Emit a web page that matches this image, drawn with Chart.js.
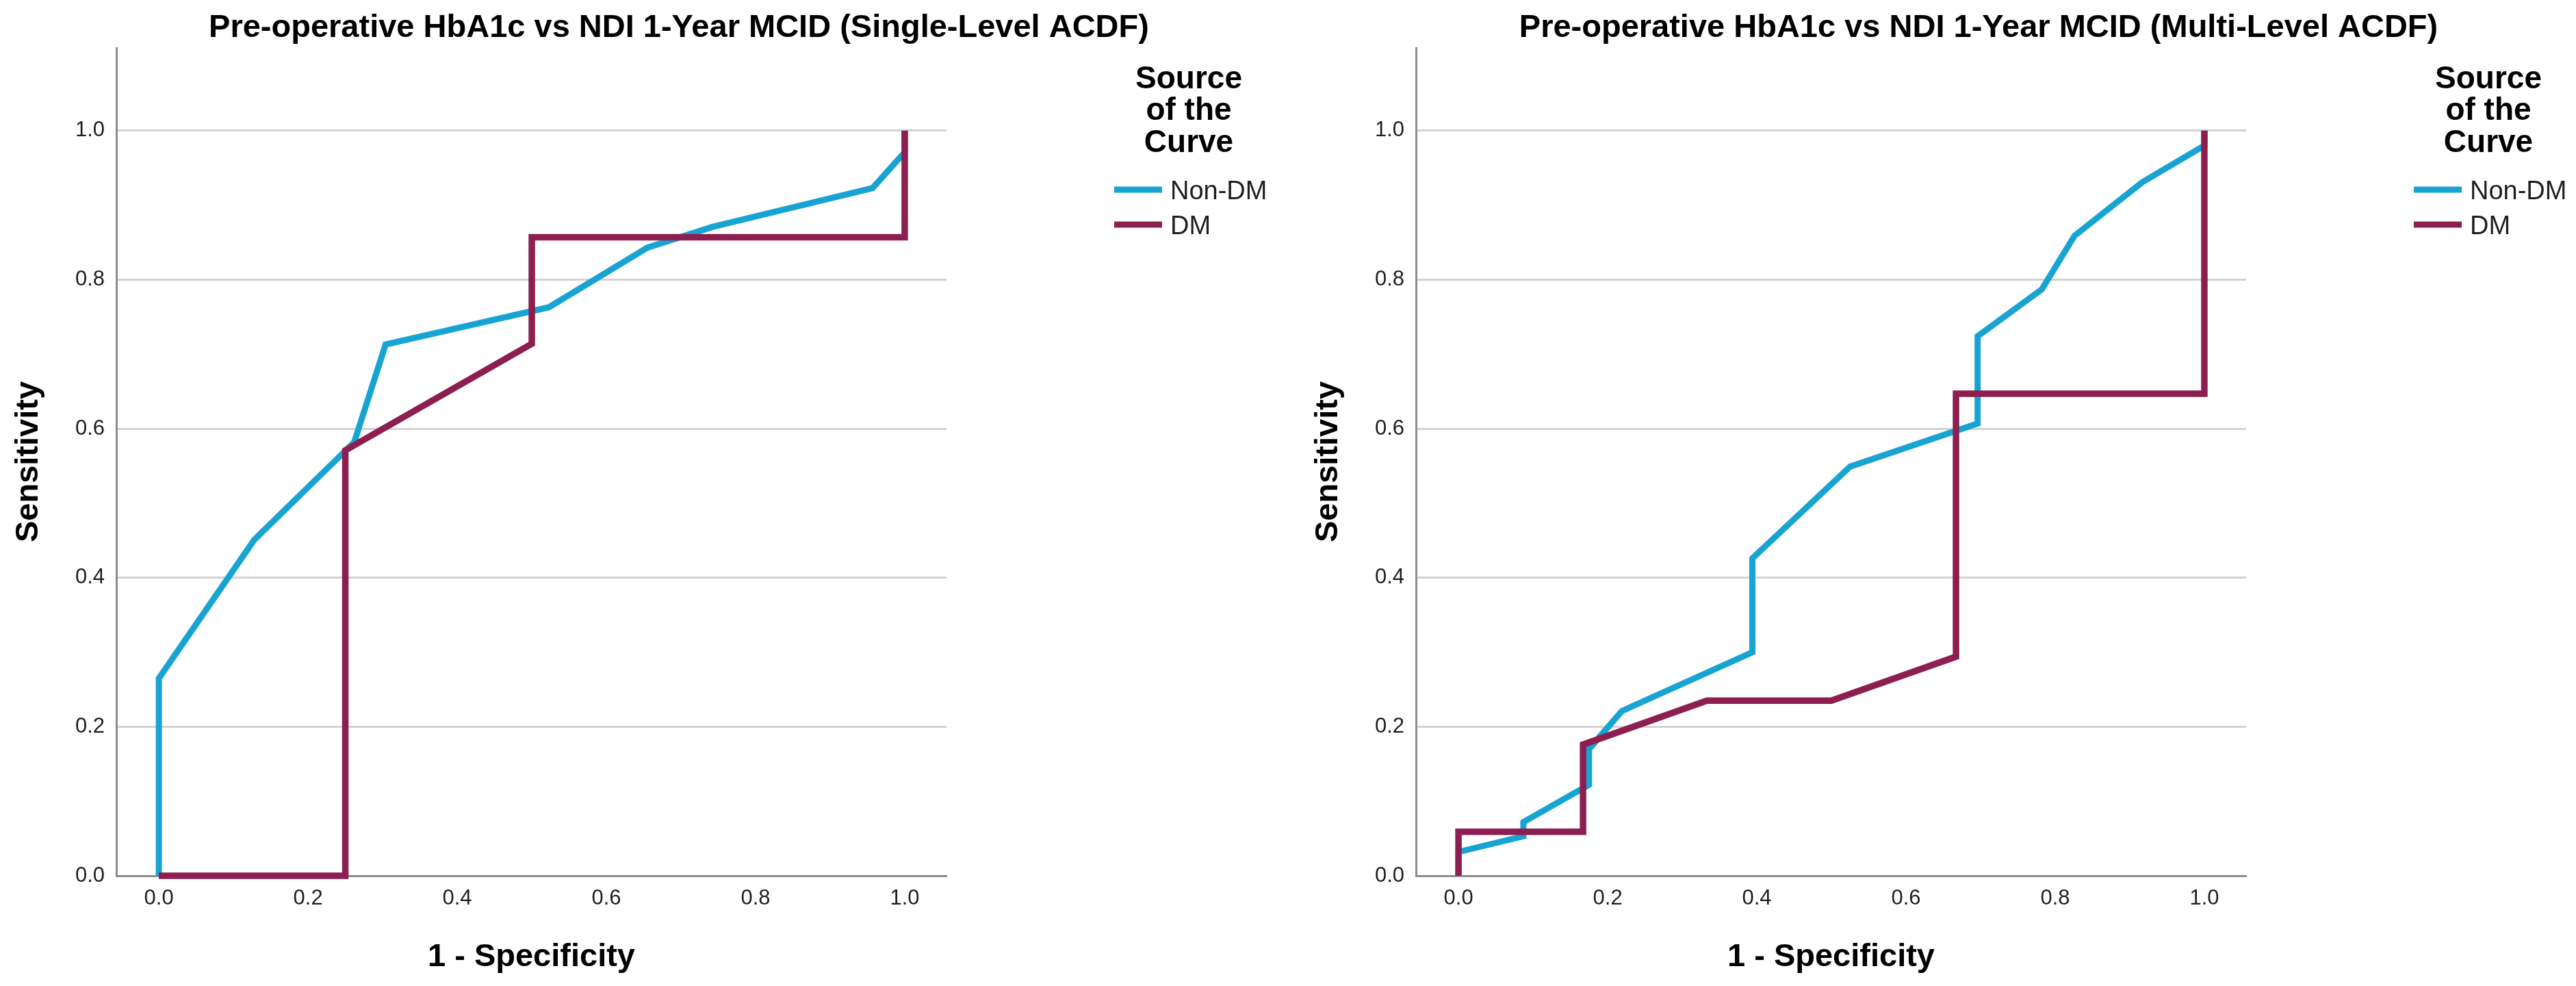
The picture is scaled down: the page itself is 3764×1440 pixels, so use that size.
<!DOCTYPE html>
<html>
<head>
<meta charset="utf-8">
<title>Pre-operative HbA1c vs NDI 1-Year MCID ROC curves</title>
<script src="https://cdn.jsdelivr.net/npm/chart.js@4.4.1/dist/chart.umd.min.js"></script>
<style>
  html, body { margin: 0; padding: 0; background: #fff; }
  body { width: 3764px; height: 1440px; position: relative; overflow: hidden; }
  .panel { position: absolute; top: 0; }
</style>
</head>
<body>
<div class="panel" style="left:0"><canvas id="single-level" width="1865" height="1440"></canvas></div>
<div class="panel" style="left:1899px"><canvas id="multi-level" width="1865" height="1440"></canvas></div>
<script>
// shared bits
const seriesLabels = ['Non-DM', 'DM'];
const seriesColors = ['#18a4d3', '#8c1f4f'];
const xTicks = [0, 0.2, 0.4, 0.6, 0.8, 1.0];
const yTicks = [0, 0.2, 0.4, 0.6, 0.8, 1.0];
const legendTitle = ['Source', 'of the', 'Curve'];
const xTitle = '1 - Specificity';
const yTitle = 'Sensitivity';

// Single-Level ACDF (1 - specificity, sensitivity)
const singleTitle = 'Pre-operative HbA1c vs NDI 1-Year MCID (Single-Level ACDF)';
const singleNonDmX = [0, 0, 0.128, 0.262, 0.304, 0.523, 0.655, 0.743, 0.957, 1.0, 1.0];
const singleNonDmY = [0, 0.265, 0.451, 0.582, 0.713, 0.763, 0.843, 0.871, 0.923, 0.971, 1.0];
const singleDmX = [0, 0.25, 0.25, 0.5, 0.5, 1.0, 1.0];
const singleDmY = [0, 0, 0.571, 0.714, 0.857, 0.857, 1.0];

// Multi-Level ACDF
const multiTitle = 'Pre-operative HbA1c vs NDI 1-Year MCID (Multi-Level ACDF)';
const multiNonDmX = [0, 0, 0.087, 0.087, 0.175, 0.175, 0.219, 0.394, 0.394, 0.525, 0.696, 0.696, 0.782, 0.826, 0.917, 1.0, 1.0];
const multiNonDmY = [0, 0.032, 0.053, 0.072, 0.122, 0.17, 0.221, 0.30, 0.426, 0.549, 0.607, 0.724, 0.787, 0.859, 0.931, 0.98, 1.0];
const multiDmX = [0, 0, 0.167, 0.167, 0.333, 0.5, 0.667, 0.667, 1.0, 1.0];
const multiDmY = [0, 0.059, 0.059, 0.176, 0.235, 0.235, 0.294, 0.647, 0.647, 1.0];

const FONT = '"Liberation Sans", Arial, Helvetica, sans-serif';
Chart.defaults.font.family = FONT;

const toPoints = (xs, ys) => xs.map((x, i) => ({ x: x, y: ys[i] }));

// chart title and SPSS-style legend on the right
const panelDecor = {
  id: 'panelDecor',
  afterDraw(chart, args, opts) {
    const ctx = chart.ctx;
    ctx.save();
    ctx.fillStyle = '#000';
    ctx.textAlign = 'center';
    ctx.textBaseline = 'middle';
    ctx.font = 'bold 47px ' + FONT;
    ctx.fillText(opts.title, 992, 41);

    ctx.font = 'bold 46px ' + FONT;
    legendTitle.forEach((line, i) => ctx.fillText(line, 1737, 116 + i * 46.5));

    ctx.textAlign = 'left';
    ctx.font = '38px ' + FONT;
    chart.data.datasets.forEach((ds, i) => {
      const y = 277 + i * 51;
      ctx.strokeStyle = ds.borderColor;
      ctx.lineWidth = 9;
      ctx.lineCap = 'butt';
      ctx.beginPath();
      ctx.moveTo(1628, y);
      ctx.lineTo(1698, y);
      ctx.stroke();
      ctx.fillStyle = '#1e1e1e';
      ctx.fillText(ds.label, 1710, y + 4);
    });
    ctx.restore();
  }
};

function makeChart(id, title, nonDm, dm) {
  const ctx = document.getElementById(id).getContext('2d');
  return new Chart(ctx, {
    type: 'line',
    data: {
      datasets: [
        {
          label: seriesLabels[0],
          data: nonDm,
          borderColor: seriesColors[0],
          borderWidth: 9,
          order: 1,
        },
        {
          label: seriesLabels[1],
          data: dm,
          borderColor: seriesColors[1],
          borderWidth: 9.5,
          order: 0,
        },
      ],
    },
    options: {
      responsive: false,
      maintainAspectRatio: false,
      devicePixelRatio: 1,
      animation: false,
      layout: { padding: { top: 70, right: 482, bottom: 0, left: 0 } },
      elements: {
        point: { radius: 0, hoverRadius: 0 },
        line: { tension: 0, fill: false, borderJoinStyle: 'miter', borderCapStyle: 'butt' },
      },
      datasets: { line: { clip: false } },
      scales: {
        x: {
          type: 'linear',
          min: -0.057,
          max: 1.056,
          afterFit: (s) => { s.height = 161; },
          afterBuildTicks: (s) => { s.ticks = xTicks.map((v) => ({ value: v })); },
          grid: { display: false, drawTicks: false },
          border: { display: true, color: '#8c8c8c', width: 3 },
          ticks: {
            padding: 15,
            color: '#1e1e1e',
            font: { size: 31 },
            callback: (v) => Number(v).toFixed(1),
          },
          title: {
            display: true,
            text: xTitle,
            color: '#000',
            font: { size: 47, weight: 'bold' },
            padding: { top: 0, bottom: 14 },
          },
        },
        y: {
          type: 'linear',
          min: 0,
          max: 1.111,
          afterFit: (s) => { s.width = 170; },
          afterBuildTicks: (s) => { s.ticks = yTicks.map((v) => ({ value: v })); },
          grid: {
            drawTicks: false,
            lineWidth: 3,
            color: (c) => (c.tick && c.tick.value === 0 ? 'rgba(0,0,0,0)' : '#d3d3d3'),
          },
          border: { display: true, color: '#8c8c8c', width: 3 },
          ticks: {
            padding: 17,
            color: '#1e1e1e',
            font: { size: 31 },
            callback: (v) => Number(v).toFixed(1),
          },
          title: {
            display: true,
            text: yTitle,
            color: '#000',
            font: { size: 47, weight: 'bold' },
            padding: { top: 14, bottom: 0 },
          },
        },
      },
      plugins: {
        legend: { display: false },
        tooltip: { enabled: false },
        title: { display: false },
        panelDecor: { title: title },
      },
    },
    plugins: [panelDecor],
  });
}

makeChart('single-level', singleTitle,
  toPoints(singleNonDmX, singleNonDmY), toPoints(singleDmX, singleDmY));
makeChart('multi-level', multiTitle,
  toPoints(multiNonDmX, multiNonDmY), toPoints(multiDmX, multiDmY));
</script>
</body>
</html>
